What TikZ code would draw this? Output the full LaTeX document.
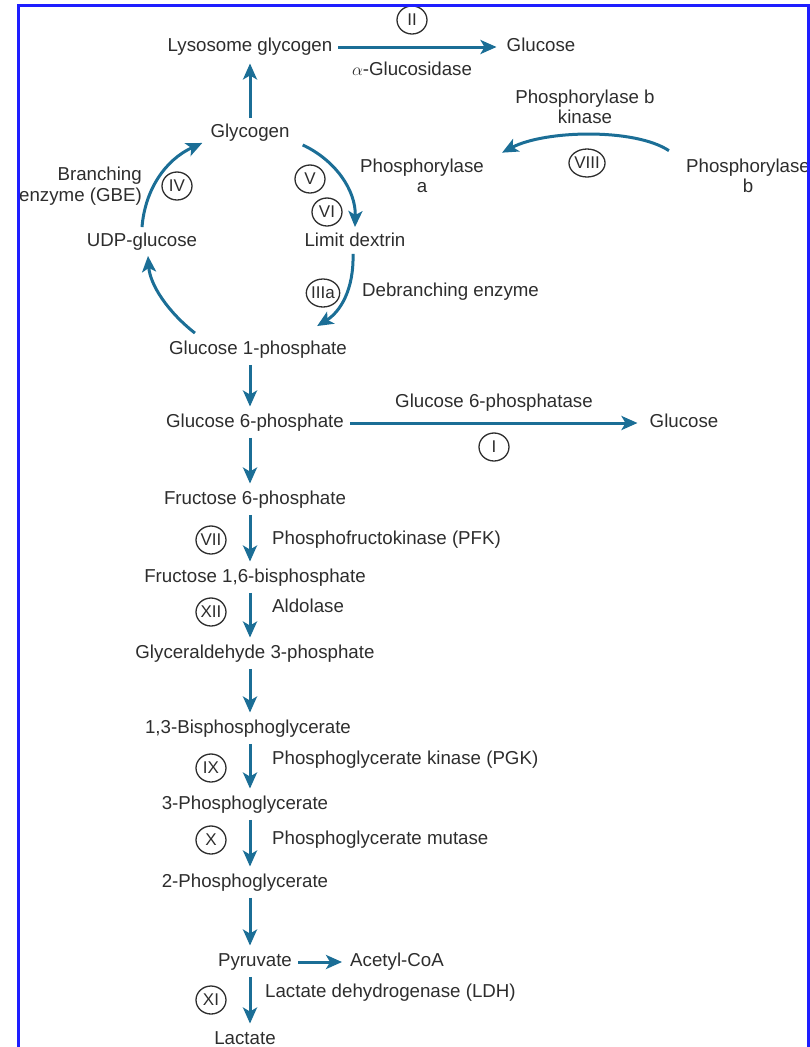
\documentclass[tikz,border=0pt]{standalone}
\usepackage{fontspec}
\setmainfont{Liberation Sans}
\usepackage{tikz}
\usetikzlibrary{arrows.meta, positioning, calc, shapes.geometric}
\definecolor{pathblue}{RGB}{27,110,150}
\definecolor{frameblue}{RGB}{30,30,255}
\definecolor{inkgray}{RGB}{45,45,45}

\begin{document}
\begin{tikzpicture}[
  x=1pt, y=-1pt,
  met/.style={inner sep=3pt, text height=13.5pt, text depth=4pt, font=\fontsize{18.7}{20.5}\selectfont, text=inkgray},
  lbl/.style={inner sep=3pt, align=center, font=\fontsize{18.7}{20.5}\selectfont, text=inkgray},
  enz/.style={ellipse, draw=inkgray, line width=1.3pt, inner sep=0pt, minimum width=30pt, minimum height=28pt, font=\fontsize{17}{17}\selectfont, text=inkgray},
  arrow/.style={-{Stealth[length=16pt, width=14pt, inset=4pt]}, line width=3pt, draw=pathblue},
  down/.style={arrow, shorten <=3pt, shorten >=4.5pt},
  across/.style={arrow, shorten <=3pt, shorten >=9pt}
]
\useasboundingbox (0,0) rectangle (810,1047);
\clip (0,0) rectangle (810,1047);

\coordinate (spine) at (250,0);

\node[met] (lys) at (250,47) {Lysosome glycogen};
\node[met] (glca) at (541,47) {Glucose};
\node[enz] (e2) at (412,20) {II};
\node[met] (agluc) at (412,71) {$\alpha$-Glucosidase};
\node[met] (glyc) at (250,133) {Glycogen};
\node[lbl] (pbk) at (585,107) {Phosphorylase b\\kinase};
\node[lbl] (pa) at (422,176) {Phosphorylase\\a};
\node[lbl] (pb) at (748,176) {Phosphorylase\\b};
\node[enz] (e8) at (587,163) {VIII};
\node[enz] (e5) at (310,179) {V};
\node[enz] (e6) at (327,212) {VI};
\node[met] (ldex) at (355,242) {Limit dextrin};
\node[enz] (e3a) at (323,293) {IIIa};
\node[met, anchor=west] (debr) at (359,292) {Debranching enzyme};
\node[met] (udp) at (142,242) {UDP-glucose};
\node[lbl, align=right, anchor=east] (gbe) at (145,186) {Branching\\enzyme (GBE)};
\node[enz] (e4) at (177,186) {IV};
\node[met] (g1p) at (258,350) {Glucose 1-phosphate};
\node[met] (g6p) at (255,423) {Glucose 6-phosphate};
\node[met] (glcb) at (684,423) {Glucose};
\node[met] (g6pase) at (494,403) {Glucose 6-phosphatase};
\node[enz] (e1) at (494,447) {I};
\node[met] (f6p) at (255,500) {Fructose 6-phosphate};
\node[enz] (e7) at (211,540) {VII};
\node[met, anchor=west] (pfk) at (269,540) {Phosphofructokinase (PFK)};
\node[met] (f16bp) at (255,578) {Fructose 1,6-bisphosphate};
\node[enz] (e12) at (211,612) {XII};
\node[met, anchor=west] (ald) at (269,608) {Aldolase};
\node[met] (gap) at (255,654) {Glyceraldehyde 3-phosphate};
\node[met] (bpg) at (248,729) {1,3-Bisphosphoglycerate};
\node[enz] (e9) at (211,768) {IX};
\node[met, anchor=west] (pgk) at (269,760) {Phosphoglycerate kinase (PGK)};
\node[met] (pg3) at (245,805) {3-Phosphoglycerate};
\node[enz] (e10) at (211,840) {X};
\node[met, anchor=west] (pgm) at (269,840) {Phosphoglycerate mutase};
\node[met] (pg2) at (245,883) {2-Phosphoglycerate};
\node[met] (pyr) at (255,962) {Pyruvate};
\node[met] (acoa) at (397,962) {Acetyl-CoA};
\node[enz] (e11) at (211,1000) {XI};
\node[met, anchor=west] (ldh) at (262,993) {Lactate dehydrogenase (LDH)};
\node[met] (lac) at (245,1040) {Lactate};

\draw[down] (glyc.north -| spine) -- (lys.south -| spine);
\draw[across, shorten >=7pt] (lys) -- (glca);
\draw[arrow] ($(glyc.south east)+(10,0)$) .. controls (335,160) and (356,190) .. ($(ldex.north)+(0,-3)$);
\draw[arrow] ($(ldex.south)+(-2,0)$) .. controls (354,290) and (340,312) .. ($(g1p.north east)+(-33,-12)$);
\draw[arrow] ($(g1p.north west)+(29,-5)$) .. controls (168,312) and (150,285) .. ($(udp.south)+(6,2)$);
\draw[arrow] ($(udp.north)+(0,-3)$) .. controls (145,190) and (165,160) .. ($(glyc.south west)+(-5,-2)$);
\draw[arrow] ($(pb.north west)+(-14,-5)$) .. controls (635,128) and (545,130) .. ($(pa.north east)+(15,-3)$);

\draw[down] (g1p.south -| spine) -- (g6p.north -| spine);
\draw[across] (g6p) -- (glcb);
\draw[down] (g6p.south -| spine) -- (f6p.north -| spine);
\draw[down] (f6p.south -| spine) -- (f16bp.north -| spine);
\draw[down] (f16bp.south -| spine) -- (gap.north -| spine);
\draw[down] (gap.south -| spine) -- (bpg.north -| spine);
\draw[down] (bpg.south -| spine) -- (pg3.north -| spine);
\draw[down] (pg3.south -| spine) -- (pg2.north -| spine);
\draw[down] (pg2.south -| spine) -- (pyr.north -| spine);
\draw[across, shorten >=5pt] (pyr) -- (acoa);
\draw[down] (pyr.south -| spine) -- (lac.north -| spine);

\draw[frameblue, line width=3pt] (18,1050) -- (18,5) -- (808,5) -- (808,1050);
\end{tikzpicture}
\end{document}
